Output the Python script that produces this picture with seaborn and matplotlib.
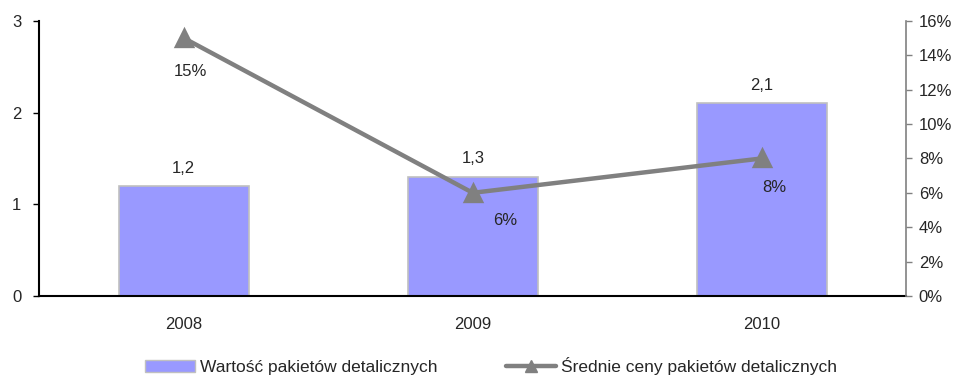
import seaborn as sns
import matplotlib.pyplot as plt
from matplotlib.patches import Patch
from matplotlib.lines import Line2D
from matplotlib.ticker import PercentFormatter

years = ['2008', '2009', '2010']
values = [1.2, 1.3, 2.1]            # Wartość pakietów detalicznych
prices = [0.15, 0.06, 0.08]         # Średnie ceny pakietów detalicznych
bar_labels = ['1,2', '1,3', '2,1']
price_labels = ['15%', '6%', '8%']


def generate_plot():
    sns.set_theme(style='white')
    plt.rcParams['font.family'] = ['Liberation Sans', 'DejaVu Sans']

    fig = plt.figure(figsize=(9.57, 3.79), dpi=100)
    ax = fig.add_axes([0.041, 0.219, 0.906, 0.726])

    sns.barplot(x=years, y=values, ax=ax, color='#9999FF', saturation=1,
                width=0.45, edgecolor='#C0C0C0', linewidth=1.2)
    ax.set_ylim(0, 3)
    ax.set_yticks([0, 1, 2, 3])
    ax.set_xlim(-0.5, 2.5)
    for spine in ['top', 'right']:
        ax.spines[spine].set_visible(False)
    ax.spines['left'].set_color('black')
    ax.spines['bottom'].set_color('black')
    ax.spines['left'].set_linewidth(1.5)
    ax.spines['bottom'].set_linewidth(1.5)
    ax.tick_params(axis='y', direction='out', length=4, width=1, color='black',
                   labelsize=12, left=True, pad=9)
    ax.tick_params(axis='x', length=0, labelsize=12, pad=15)
    ax.set_xlabel('')
    ax.set_ylabel('')

    for i, (v, lab) in enumerate(zip(values, bar_labels)):
        ax.annotate(lab, (i, v), xytext=(0, 7.5), textcoords='offset points',
                    ha='center', va='bottom', fontsize=12)

    ax2 = ax.twinx()
    sns.pointplot(x=years, y=prices, ax=ax2, color='#808080', markers='^',
                  markersize=11, linewidth=3.2)
    ax2.set_xlim(-0.5, 2.5)
    ax2.set_ylim(0, 0.16)
    ax2.set_yticks([i / 100 for i in range(0, 17, 2)])
    ax2.yaxis.set_major_formatter(PercentFormatter(1.0, decimals=0))
    for spine in ['top', 'left', 'bottom']:
        ax2.spines[spine].set_visible(False)
    ax2.spines['right'].set_color('#808080')
    ax2.spines['right'].set_linewidth(1.2)
    ax2.tick_params(axis='y', direction='out', length=4, width=1, color='#808080',
                    labelsize=12, right=True, pad=5)
    ax2.set_ylabel('')

    offsets = [(5, -24), (23, -20), (9, -21)]
    for i, (p, lab) in enumerate(zip(prices, price_labels)):
        ax2.annotate(lab, (i, p), xytext=offsets[i], textcoords='offset points',
                     ha='center', va='center', fontsize=12)

    handles = [
        Patch(facecolor='#9999FF', edgecolor='#C0C0C0', label='Wartość pakietów detalicznych'),
        Line2D([0], [0], color='#808080', linewidth=3.2, marker='^', markersize=8,
               label='Średnie ceny pakietów detalicznych'),
    ]
    fig.legend(handles=handles, loc='lower center', bbox_to_anchor=(0.513, -0.03),
               ncol=2, frameon=False, fontsize=12.5, columnspacing=3.9,
               handlelength=2.9, handletextpad=0.3)

    fig.savefig('out.png', dpi=100)


def main():
    generate_plot()


if __name__ == '__main__':
    main()
